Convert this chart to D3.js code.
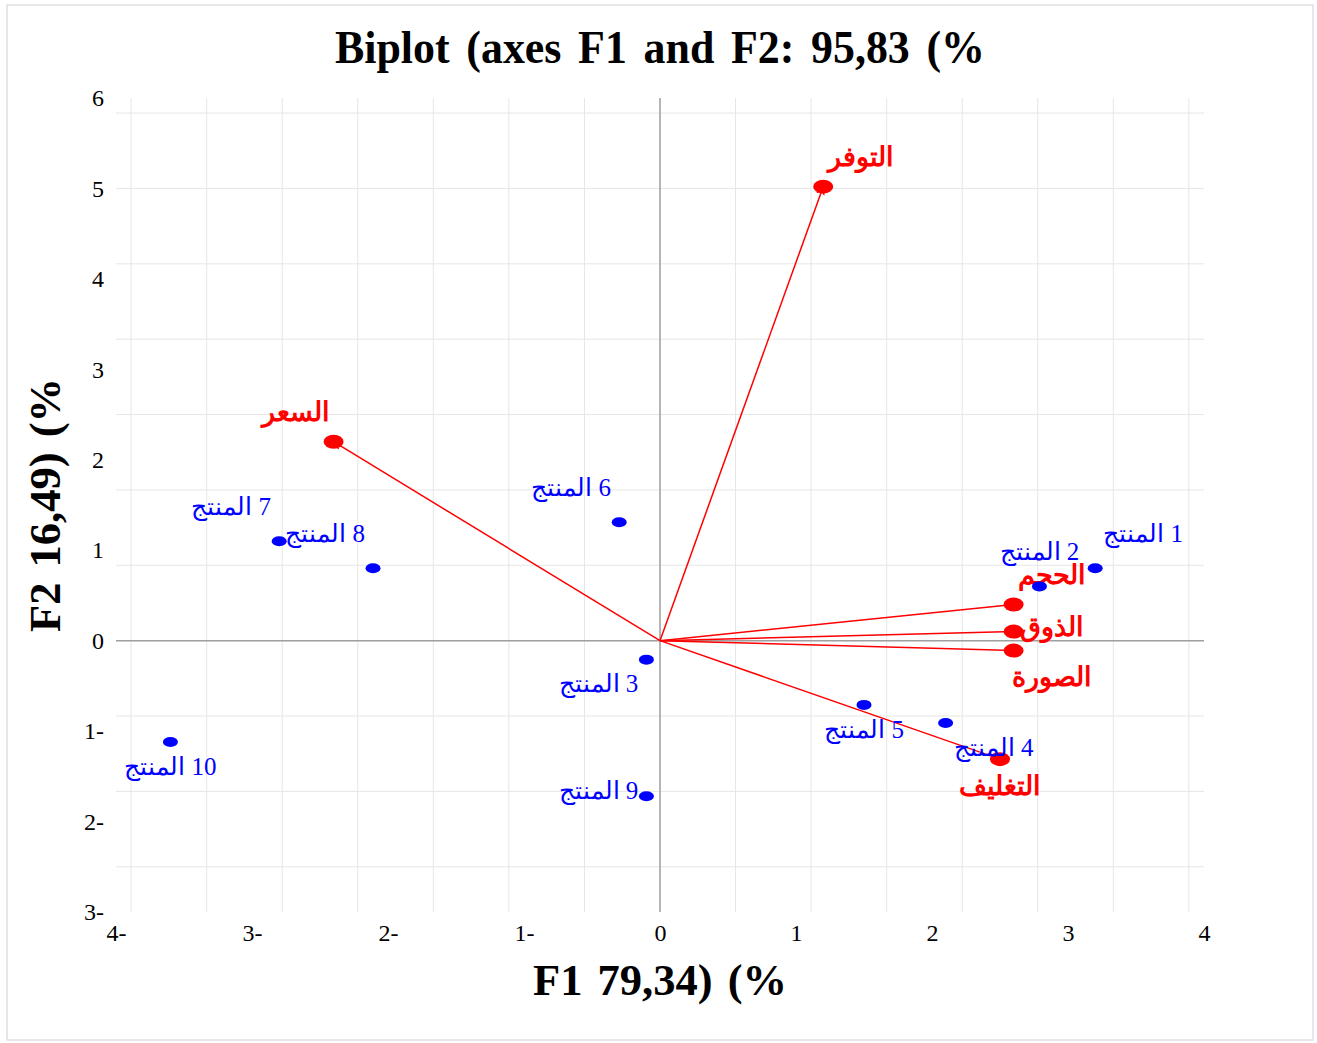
<!DOCTYPE html>
<html lang="en">
<head>
<meta charset="utf-8" />
<style>
  body { margin: 0; background: #fff; }
  text { font-family: "Liberation Serif", "DejaVu Serif", serif; }
  .grid line { stroke: #e6e6e6; stroke-width: 1px; }
  .tick text { font-size: 24px; fill: #000; }
</style>
</head>
<body>
<svg width="1317" height="1043"></svg>
<script src="https://cdn.jsdelivr.net/npm/d3@7"></script>
<script>
// observations (products)
var products = ["المنتج 1", "المنتج 2", "المنتج 3", "المنتج 4", "المنتج 5",
                "المنتج 6", "المنتج 7", "المنتج 8", "المنتج 9", "المنتج 10"];
var productF1 = [3.20, 2.79, -0.10, 2.10, 1.50, -0.30, -2.80, -2.11, -0.10, -3.60];
var productF2 = [0.80, 0.60, -0.21, -0.91, -0.71, 1.31, 1.10, 0.80, -1.72, -1.12];
var productLabelSide = ["ne", "n", "sw", "se", "s", "nw", "nw", "nw", "w", "s"];

// variables
var variables = ["التوفر", "السعر", "الحجم", "الذوق", "الصورة", "التغليف"];
var variableF1 = [1.20, -2.40, 2.60, 2.60, 2.60, 2.50];
var variableF2 = [5.02, 2.20, 0.40, 0.10, -0.11, -1.31];
var variableLabelSide = ["ne", "nw", "ne", "e", "se", "s"];

var xTicks = [-4, -3, -2, -1, 0, 1, 2, 3, 4];
var yTicks = [-3, -2, -1, 0, 1, 2, 3, 4, 5, 6];

var svg = d3.select("svg");

svg.append("rect")
    .attr("x", 7).attr("y", 5)
    .attr("width", 1306).attr("height", 1035)
    .attr("fill", "none").attr("stroke", "#d0d0d0");

var x = d3.scaleLinear().domain([-4, 4]).range([116, 1204]);
var y = d3.scaleLinear().domain([-3, 6]).range([912, 98]);

// grid is drawn on its own step, not on the tick labels
var gx = d3.range(-7, 8).map(function(k) { return k * 5 / 9; });
var gy = d3.range(-3, 8).map(function(k) { return k * 5 / 6; });

var grid = svg.append("g").attr("class", "grid");
grid.selectAll(".gv").data(gx).enter().append("line")
    .attr("x1", function(d) { return x(d); })
    .attr("x2", function(d) { return x(d); })
    .attr("y1", y(6)).attr("y2", y(-3));
grid.selectAll(".gh").data(gy).enter().append("line")
    .attr("x1", x(-4)).attr("x2", x(4))
    .attr("y1", function(d) { return y(d); })
    .attr("y2", function(d) { return y(d); });

// zero axes
svg.append("line")
    .attr("x1", x(0)).attr("x2", x(0))
    .attr("y1", y(6)).attr("y2", y(-3))
    .attr("stroke", "#a0a0a0").attr("stroke-width", 1.5);
svg.append("line")
    .attr("x1", x(-4)).attr("x2", x(4))
    .attr("y1", y(0)).attr("y2", y(0))
    .attr("stroke", "#a0a0a0").attr("stroke-width", 1.5);

function fmt(d) { return d < 0 ? (-d) + "-" : String(d); }

var xAxis = svg.append("g")
    .attr("transform", "translate(0," + y(-3) + ")")
    .call(d3.axisBottom(x).tickValues(xTicks).tickSize(0).tickPadding(12).tickFormat(fmt));
xAxis.select(".domain").remove();

var yAxis = svg.append("g")
    .attr("transform", "translate(" + (x(-4) - 10) + ",0)")
    .call(d3.axisLeft(y).tickValues(yTicks).tickSize(0).tickPadding(2).tickFormat(fmt));
yAxis.select(".domain").remove();

// titles
svg.append("text")
    .attr("x", 660).attr("y", 63)
    .attr("text-anchor", "middle")
    .attr("font-size", 46).attr("font-weight", "bold")
    .attr("word-spacing", 6)
    .attr("textLength", 650).attr("lengthAdjust", "spacingAndGlyphs")
    .text("Biplot (axes F1 and F2: 95,83 (%");

svg.append("text")
    .attr("x", 660).attr("y", 995)
    .attr("text-anchor", "middle")
    .attr("font-size", 45).attr("font-weight", "bold")
    .attr("word-spacing", 4)
    .attr("textLength", 254).attr("lengthAdjust", "spacingAndGlyphs")
    .text("F1 79,34) (%");

svg.append("text")
    .attr("transform", "translate(60,505) rotate(-90)")
    .attr("text-anchor", "middle")
    .attr("font-size", 45).attr("font-weight", "bold")
    .attr("word-spacing", 4)
    .attr("textLength", 254).attr("lengthAdjust", "spacingAndGlyphs")
    .text("F2 16,49) (%");

// label offsets by side
function offset(side, dx, dyUp, dyDown) {
  return {
    n: [0, -dyUp], s: [0, dyDown], e: [dx, -5], w: [-dx, -6],
    ne: [dx, -dyUp], nw: [-dx, -dyUp], se: [dx, dyDown], sw: [-dx, dyDown]
  }[side];
}

// variable arrows
svg.append("defs").append("marker")
    .attr("id", "arrow")
    .attr("viewBox", "0 0 10 10")
    .attr("refX", 9).attr("refY", 5)
    .attr("markerWidth", 6).attr("markerHeight", 6)
    .attr("orient", "auto")
  .append("path")
    .attr("d", "M0,1 L10,5 L0,9")
    .attr("fill", "none").attr("stroke", "red").attr("stroke-width", 1.5);

var vars = variables.map(function(name, i) {
  return { name: name, f1: variableF1[i], f2: variableF2[i], side: variableLabelSide[i] };
});

svg.selectAll(".arrow").data(vars).enter().append("line")
    .attr("x1", x(0)).attr("y1", y(0))
    .attr("x2", function(d) { return x(d.f1); })
    .attr("y2", function(d) { return y(d.f2); })
    .attr("stroke", "red").attr("stroke-width", 1.5)
    .attr("marker-end", "url(#arrow)");

svg.selectAll(".vdot").data(vars).enter().append("ellipse")
    .attr("cx", function(d) { return x(d.f1); })
    .attr("cy", function(d) { return y(d.f2); })
    .attr("rx", 10).attr("ry", 7)
    .attr("fill", "red");

svg.selectAll(".vlab").data(vars).enter().append("text")
    .attr("x", function(d) { return x(d.f1) + offset(d.side, 38, 30, 26)[0]; })
    .attr("y", function(d) { return y(d.f2) + offset(d.side, 38, 30, 26)[1]; })
    .attr("dy", "0.35em")
    .attr("text-anchor", "middle")
    .attr("font-size", 27).attr("font-weight", "bold")
    .attr("fill", "red")
    .text(function(d) { return d.name; });

// products
var obs = products.map(function(name, i) {
  return { name: name, f1: productF1[i], f2: productF2[i], side: productLabelSide[i] };
});

svg.selectAll(".pdot").data(obs).enter().append("ellipse")
    .attr("cx", function(d) { return x(d.f1); })
    .attr("cy", function(d) { return y(d.f2); })
    .attr("rx", 7.5).attr("ry", 5)
    .attr("fill", "#0000ff");

// LRM keeps the number on the right of the word, as in the reference
svg.selectAll(".plab").data(obs).enter().append("text")
    .attr("x", function(d) { return x(d.f1) + offset(d.side, 48, 35, 24)[0]; })
    .attr("y", function(d) { return y(d.f2) + offset(d.side, 48, 35, 24)[1]; })
    .attr("dy", "0.35em")
    .attr("text-anchor", "middle")
    .attr("font-size", 25)
    .attr("fill", "#0000ff")
    .text(function(d) { return d.name.replace(" ", "\u200E "); });
</script>
</body>
</html>
